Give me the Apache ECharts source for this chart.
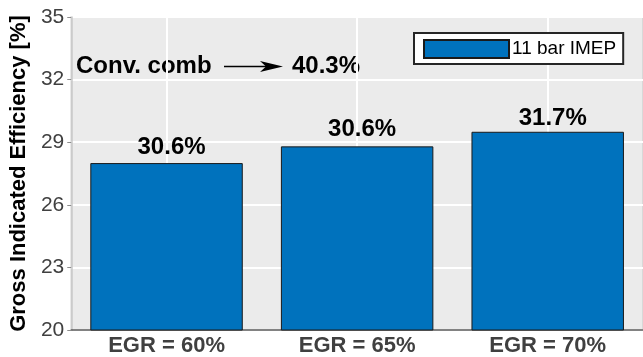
<!DOCTYPE html>
<html>
<head>
<meta charset="utf-8">
<title>Gross Indicated Efficiency</title>
<script src="https://cdn.jsdelivr.net/npm/echarts@6/dist/echarts.min.js"></script>
<style>
  html, body { margin: 0; padding: 0; background: #ffffff; }
  #chart { width: 643px; height: 357px; }
</style>
</head>
<body>
<div id="chart"></div>
<script>
// EGR sweep at 11 bar IMEP
const categories = ['EGR = 60%', 'EGR = 65%', 'EGR = 70%'];
const grossEfficiency = [28.0, 28.8, 29.5];
const barAnnotations = ['30.6%', '30.6%', '31.7%'];
const yTicks = [20, 23, 26, 29, 32, 35];
const seriesName = '11 bar IMEP';
const convCombText = 'Conv. comb';
const convCombValue = '40.3%';

const FONT = '"Liberation Sans", Arial, Helvetica, sans-serif';
const labelDistance = [4, 5, 1];

const chart = echarts.init(document.getElementById('chart'), null, { renderer: 'canvas' });

chart.setOption({
  animation: false,
  backgroundColor: '#ffffff',
  grid: {
    left: 67, top: 17, right: -2, bottom: 27,
    show: true,
    backgroundColor: '#ebebeb',
    borderColor: '#d2d2d2',
    borderWidth: 1.5
  },
  legend: {
    left: 414, top: 33,
    padding: [6, 7, 5, 9],
    backgroundColor: '#ffffff',
    borderColor: '#262626',
    borderWidth: 2,
    borderRadius: 0,
    itemWidth: 85, itemHeight: 18,
    icon: 'rect',
    textStyle: { fontFamily: FONT, fontSize: 19, color: '#000000', padding: [0, 0, 0, -2] },
    data: [seriesName]
  },
  xAxis: {
    type: 'category',
    data: categories,
    axisLine: { show: true, lineStyle: { color: '#595959', width: 1.5 } },
    axisTick: { show: false, alignWithLabel: true },
    splitLine: { show: true, alignWithLabel: true, lineStyle: { color: '#ffffff', width: 2 } },
    axisLabel: {
      margin: 5,
      fontFamily: FONT, fontSize: 22, fontWeight: 'bold', color: '#404040'
    }
  },
  yAxis: {
    type: 'value',
    min: 20, max: 35,
    name: 'Gross Indicated Efficiency [%]',
    nameLocation: 'middle',
    nameGap: 36,
    nameTextStyle: { fontFamily: FONT, fontSize: 22, fontWeight: 'bold', color: '#000000' },
    axisLine: { show: true, lineStyle: { color: '#c8c8c8', width: 1.5 } },
    axisTick: { show: true, length: 4, customValues: yTicks, lineStyle: { color: '#8c8c8c' } },
    splitLine: { show: true, lineStyle: { color: '#ffffff', width: 2 } },
    axisLabel: {
      customValues: yTicks,
      margin: 7,
      fontFamily: FONT, fontSize: 21, color: '#404040'
    }
  },
  series: [{
    name: seriesName,
    type: 'bar',
    barWidth: '80%',
    itemStyle: { color: '#0072bd', borderColor: '#1a1a1a', borderWidth: 1 },
    data: grossEfficiency.map((v, i) => ({
      value: v,
      label: { distance: labelDistance[i] }
    })),
    label: {
      show: true,
      position: 'top',
      offset: [5, 0],
      formatter: (p) => barAnnotations[p.dataIndex],
      fontFamily: FONT, fontSize: 24, fontWeight: 'bold', color: '#000000'
    }
  }],
  graphic: [
    {
      type: 'text', left: 76, top: 54,
      style: { text: convCombText, font: 'bold 24px ' + FONT, fill: '#000000' }
    },
    {
      type: 'line',
      shape: { x1: 224, y1: 66.5, x2: 266, y2: 66.5 },
      style: { stroke: '#000000', lineWidth: 1.3 }
    },
    {
      type: 'polygon',
      shape: { points: [[283, 66.5], [260, 61], [266, 66.5], [260, 72]] },
      style: { fill: '#000000' }
    },
    {
      type: 'text', left: 292, top: 54,
      style: { text: convCombValue, font: 'bold 24px ' + FONT, fill: '#000000' }
    }
  ]
});
</script>
</body>
</html>
